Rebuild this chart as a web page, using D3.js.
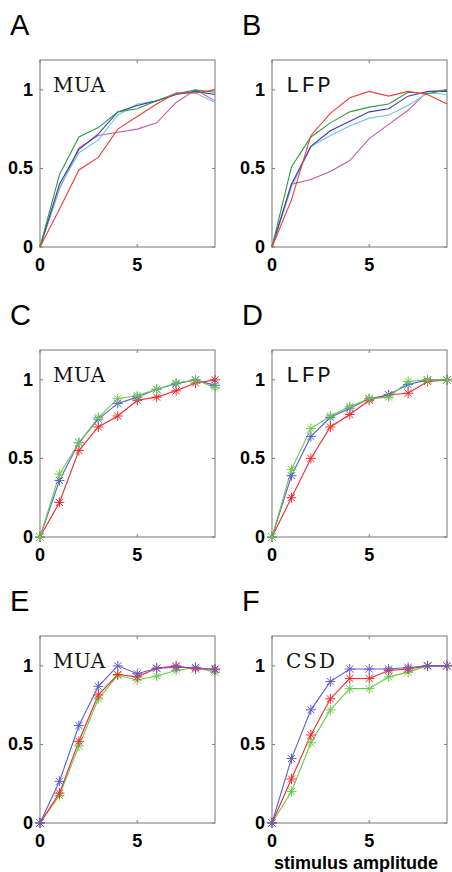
<!DOCTYPE html>
<html>
<head>
<meta charset="utf-8">
<script src="https://cdn.jsdelivr.net/npm/d3@7/dist/d3.min.js"></script>
<style>
  html, body { margin: 0; padding: 0; background: #fff; }
  svg { display: block; }
</style>
</head>
<body>
<svg id="chart" width="452" height="872"></svg>
<script>
var amplitudes = [0, 1, 2, 3, 4, 5, 6, 7, 8, 9];
var xTicks = [0, 5];
var yTicks = [0, 0.5, 1];
var yTickLabels = ['0', '0.5', '1'];

// A: MUA, single animals
var aGreen   = [0, 0.46, 0.70, 0.76, 0.86, 0.88, 0.93, 0.975, 1.00, 0.985];
var aBlue    = [0, 0.40, 0.62, 0.72, 0.86, 0.90, 0.93, 0.97, 0.99, 0.97];
var aCyan    = [0, 0.38, 0.60, 0.68, 0.84, 0.91, 0.93, 0.98, 0.98, 0.92];
var aMagenta = [0, 0.37, 0.63, 0.71, 0.73, 0.75, 0.79, 0.92, 1.00, 0.93];
var aRed     = [0, 0.24, 0.49, 0.57, 0.75, 0.83, 0.91, 0.98, 0.98, 1.00];

// B: LFP, single animals
var bGreen   = [0, 0.51, 0.70, 0.79, 0.86, 0.89, 0.91, 0.985, 0.975, 1.00];
var bBlue    = [0, 0.40, 0.64, 0.74, 0.80, 0.86, 0.88, 0.96, 0.99, 0.99];
var bCyan    = [0, 0.38, 0.64, 0.71, 0.77, 0.82, 0.84, 0.90, 0.98, 0.97];
var bMagenta = [0, 0.40, 0.43, 0.48, 0.55, 0.69, 0.78, 0.87, 0.99, 1.00];
var bRed     = [0, 0.30, 0.71, 0.85, 0.95, 0.99, 0.96, 0.99, 0.97, 0.91];

// C: MUA
var cBlue  = [0, 0.36, 0.60, 0.75, 0.85, 0.89, 0.94, 0.975, 1.00, 0.965];
var cRed   = [0, 0.22, 0.55, 0.70, 0.77, 0.87, 0.89, 0.93, 0.98, 1.00];
var cGreen = [0, 0.40, 0.60, 0.76, 0.88, 0.90, 0.94, 0.98, 1.00, 0.95];

// D: LFP
var dBlue  = [0, 0.39, 0.64, 0.76, 0.82, 0.88, 0.905, 0.97, 1.00, 1.00];
var dRed   = [0, 0.25, 0.50, 0.70, 0.78, 0.87, 0.905, 0.915, 0.99, 1.00];
var dGreen = [0, 0.43, 0.69, 0.77, 0.83, 0.88, 0.89, 0.99, 1.00, 1.00];

// E: MUA
var eBlue  = [0, 0.265, 0.62, 0.87, 1.00, 0.95, 0.985, 0.99, 0.99, 0.975];
var eRed   = [0, 0.19, 0.52, 0.815, 0.945, 0.93, 0.985, 1.00, 0.98, 0.98];
var eGreen = [0, 0.175, 0.49, 0.79, 0.94, 0.91, 0.935, 0.97, 0.99, 0.96];

// F: CSD
var fBlue  = [0, 0.41, 0.72, 0.90, 0.98, 0.98, 0.98, 0.99, 1.00, 1.00];
var fRed   = [0, 0.28, 0.56, 0.79, 0.92, 0.92, 0.97, 0.98, 1.00, 1.00];
var fGreen = [0, 0.20, 0.51, 0.72, 0.855, 0.855, 0.93, 0.96, 1.00, 1.00];

var panelLetters = ['A', 'B', 'C', 'D', 'E', 'F'];
var panelNames = ['MUA', 'LFP', 'MUA', 'LFP', 'MUA', 'CSD'];
var xLabel = 'stimulus amplitude';

var colAB = { green: '#2f9c3f', blue: '#3b3bb0', cyan: '#72c6e0', magenta: '#c659a8', red: '#f23c3c' };
var colCF = { blue: '#5d5dd2', red: '#f22a2a', green: '#6acc46' };

var panels = [
  { left: 40,  top: 60,  letterY: 35, markers: false,
    series: [[aMagenta, colAB.magenta], [aCyan, colAB.cyan], [aBlue, colAB.blue], [aGreen, colAB.green], [aRed, colAB.red]] },
  { left: 272, top: 60,  letterY: 35, markers: false,
    series: [[bMagenta, colAB.magenta], [bCyan, colAB.cyan], [bBlue, colAB.blue], [bGreen, colAB.green], [bRed, colAB.red]] },
  { left: 40,  top: 350, letterY: 325, markers: true,
    series: [[cRed, colCF.red], [cBlue, colCF.blue], [cGreen, colCF.green]] },
  { left: 272, top: 350, letterY: 325, markers: true,
    series: [[dRed, colCF.red], [dBlue, colCF.blue], [dGreen, colCF.green]] },
  { left: 40,  top: 636, letterY: 611, markers: true,
    series: [[eGreen, colCF.green], [eRed, colCF.red], [eBlue, colCF.blue]] },
  { left: 272, top: 636, letterY: 611, markers: true,
    series: [[fGreen, colCF.green], [fRed, colCF.red], [fBlue, colCF.blue]] }
];

var plotW = 175, plotH = 187;
var svg = d3.select('#chart');

function asterisk(g, cx, cy, r, color) {
  var d = r * 0.7071, i, segs = [[-r, 0, r, 0], [0, -r, 0, r], [-d, -d, d, d], [-d, d, d, -d]];
  for (i = 0; i < segs.length; i++) {
    g.append('line')
      .attr('x1', cx + segs[i][0]).attr('y1', cy + segs[i][1])
      .attr('x2', cx + segs[i][2]).attr('y2', cy + segs[i][3])
      .attr('stroke', color).attr('stroke-width', 1);
  }
}

panels.forEach(function(p, i) {
  var x = d3.scaleLinear().domain([0, 9]).range([p.left, p.left + plotW]);
  var y = d3.scaleLinear().domain([0, 1.19]).range([p.top + plotH, p.top]);
  var g = svg.append('g');

  g.append('text')
    .attr('x', p.left - 30).attr('y', p.letterY)
    .attr('font-family', 'Liberation Sans, Arial, sans-serif')
    .attr('font-size', 29)
    .text(panelLetters[i]);

  g.append('rect')
    .attr('x', p.left).attr('y', p.top)
    .attr('width', plotW).attr('height', plotH)
    .attr('fill', '#fff').attr('stroke', '#777').attr('stroke-width', 1);

  // inward ticks on all four sides
  xTicks.forEach(function(t) {
    g.append('line').attr('x1', x(t)).attr('x2', x(t)).attr('y1', p.top + plotH).attr('y2', p.top + plotH - 3).attr('stroke', '#777');
    g.append('line').attr('x1', x(t)).attr('x2', x(t)).attr('y1', p.top).attr('y2', p.top + 3).attr('stroke', '#777');
    g.append('text')
      .attr('x', x(t)).attr('y', p.top + plotH + 24)
      .attr('text-anchor', 'middle')
      .attr('font-family', 'Liberation Sans, Arial, sans-serif')
      .attr('font-weight', 'bold').attr('font-size', 18)
      .text(t);
  });
  yTicks.forEach(function(t, j) {
    g.append('line').attr('x1', p.left).attr('x2', p.left + 3).attr('y1', y(t)).attr('y2', y(t)).attr('stroke', '#777');
    g.append('line').attr('x1', p.left + plotW).attr('x2', p.left + plotW - 3).attr('y1', y(t)).attr('y2', y(t)).attr('stroke', '#777');
    g.append('text')
      .attr('x', p.left - 7).attr('y', y(t) + 6)
      .attr('text-anchor', 'end')
      .attr('font-family', 'Liberation Sans, Arial, sans-serif')
      .attr('font-weight', 'bold').attr('font-size', 18)
      .text(yTickLabels[j]);
  });

  var name = panelNames[i];
  g.append('text')
    .attr('x', p.left + (name === 'MUA' ? 13 : 14)).attr('y', p.top + 32)
    .attr('font-family', name === 'LFP' ? 'Liberation Mono, monospace' : 'DejaVu Serif, serif')
    .attr('font-size', name === 'LFP' ? 22 : 20)
    .attr('letter-spacing', name === 'LFP' ? 2.5 : (name === 'CSD' ? 2 : 0.5))
    .attr('fill', '#111')
    .text(name);

  var line = d3.line()
    .x(function(d, k) { return x(amplitudes[k]); })
    .y(function(d) { return y(d); });

  p.series.forEach(function(s) {
    g.append('path')
      .attr('d', line(s[0]))
      .attr('fill', 'none')
      .attr('stroke', s[1])
      .attr('stroke-width', 1.1);
  });
  if (p.markers) {
    p.series.forEach(function(s) {
      s[0].forEach(function(v, k) {
        asterisk(g, x(amplitudes[k]), y(v), 5, s[1]);
      });
    });
  }
});

svg.append('text')
  .attr('x', 356).attr('y', 869)
  .attr('text-anchor', 'middle')
  .attr('font-family', 'Liberation Sans, Arial, sans-serif')
  .attr('font-weight', 'bold').attr('font-size', 18)
  .text(xLabel);
</script>
</body>
</html>
